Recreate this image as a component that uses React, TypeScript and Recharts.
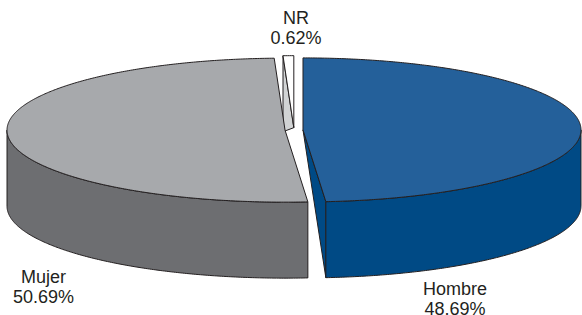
import { PieChart, Pie } from "recharts";

// slice order follows the pie clockwise, starting with the thin NR wedge
const names = ["NR", "Hombre", "Mujer"];
const shares = [0.62, 48.69, 50.69];
const topColors = ["#FFFFFF", "#24609A", "#A7A9AC"];
const sideColors = ["#D1D3D4", "#004A85", "#6D6E71"];

const data = names.map((name, i) => ({
  name,
  value: shares[i],
  top: topColors[i],
  side: sideColors[i],
}));

const W = 582;
const H = 315;
const CX = 294;
const CY = 130;
const R = 278;
const TILT = 72 / 278;
const DEPTH = 76;
const EXPLODE = 9;
const RAD = Math.PI / 180;
const INK = "#231F20";

const total = shares.reduce((a, b) => a + b, 0);
const START = 90 + (shares[0] / total) * 360;

// label anchors relative to the pie centre
const labelSpots: Record<string, [number, number]> = {
  NR: [2, -106],
  Hombre: [161, 165],
  Mujer: [-250.5, 153],
};

type Pt = [number, number];

function Slice3D(props: any) {
  const { cx, cy, outerRadius, startAngle, endAngle } = props;
  const entry = props.payload ?? props;
  const ry = outerRadius * TILT;
  const mid = ((startAngle + endAngle) / 2) * RAD;
  const ox = cx + EXPLODE * Math.cos(mid);
  const oy = cy - EXPLODE * TILT * Math.sin(mid);

  const pt = (a: number, dy = 0): Pt => [
    ox + outerRadius * Math.cos(a * RAD),
    oy - ry * Math.sin(a * RAD) + dy,
  ];
  const arc = (a0: number, a1: number, dy = 0): Pt[] => {
    const n = Math.max(2, Math.ceil(Math.abs(a1 - a0) * 2));
    return Array.from({ length: n + 1 }, (_, i) => pt(a0 + ((a1 - a0) * i) / n, dy));
  };
  const toPath = (pts: Pt[]) =>
    "M" + pts.map((p) => p[0].toFixed(2) + "," + p[1].toFixed(2)).join("L") + "Z";

  const lo = Math.min(startAngle, endAngle);
  const hi = Math.max(startAngle, endAngle);

  const outer: string[] = [];
  for (const [f0, f1] of [[-540, -360], [-180, 0], [180, 360]]) {
    const a0 = Math.max(lo, f0);
    const a1 = Math.min(hi, f1);
    if (a1 > a0) outer.push(toPath([...arc(a0, a1), ...arc(a1, a0, DEPTH)]));
  }

  const radial: string[] = [];
  if (Math.cos(hi * RAD) < -0.01) radial.push(toPath([[ox, oy], pt(hi), pt(hi, DEPTH)]));
  if (Math.cos(lo * RAD) > 0.01) radial.push(toPath([[ox, oy], pt(lo), pt(lo, DEPTH)]));

  const top = toPath([[ox, oy], ...arc(hi, lo)]);
  const common = { stroke: INK, strokeWidth: 1, strokeLinejoin: "round" as const };

  return (
    <g>
      {radial.map((d, i) => (
        <path key={"r" + i} d={d} fill={entry.side} {...common} />
      ))}
      {outer.map((d, i) => (
        <path key={"o" + i} d={d} fill={entry.side} {...common} />
      ))}
      <path d={top} fill={entry.top} {...common} />
    </g>
  );
}

function renderLabel(props: any) {
  const name = props.name ?? props.payload?.name;
  const value = props.value ?? props.payload?.value;
  const [dx, dy] = labelSpots[name] ?? [0, 0];
  const x = CX + dx;
  const y = CY + dy;
  return (
    <text
      x={x}
      y={y}
      textAnchor="middle"
      fontSize={18}
      fill={INK}
      fontFamily="'Liberation Sans', Arial, sans-serif"
    >
      <tspan x={x} dy={0}>{name}</tspan>
      <tspan x={x} dy={20}>{Number(value).toFixed(2)}%</tspan>
    </text>
  );
}

export default function App() {
  return (
    <div style={{ position: "absolute", left: 0, top: 0, width: W, height: H, background: "#fff" }}>
      <PieChart width={W} height={H} margin={{ top: 0, right: 0, bottom: 0, left: 0 }}>
        <Pie
          data={data}
          dataKey="value"
          nameKey="name"
          cx={CX}
          cy={CY}
          innerRadius={0}
          outerRadius={R}
          startAngle={START}
          endAngle={START - 360}
          stroke="none"
          labelLine={false}
          label={renderLabel}
          shape={Slice3D}
          inactiveShape={Slice3D}
          activeShape={Slice3D}
          isAnimationActive={false}
        />
      </PieChart>
    </div>
  );
}
